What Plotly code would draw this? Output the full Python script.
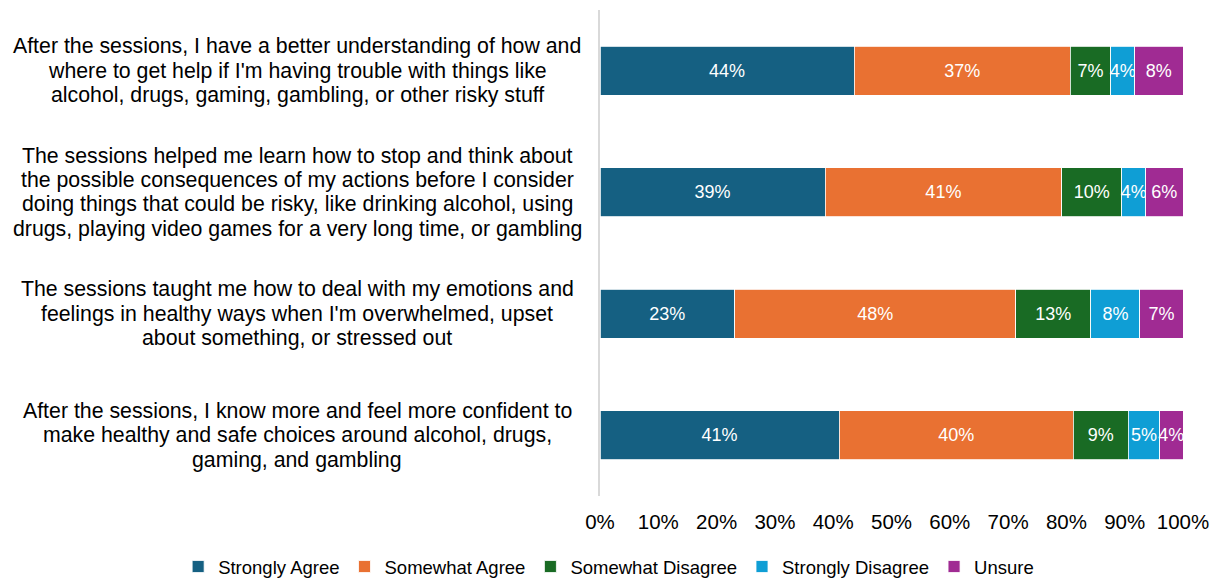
import plotly.graph_objects as go

categories = [
    "After the sessions, I have a better understanding of how and<br>where to get help if I'm having trouble with things like<br>alcohol, drugs, gaming, gambling, or other risky stuff",
    "The sessions helped me learn how to stop and think about<br>the possible consequences of my actions before I consider<br>doing things that could be risky, like drinking alcohol, using<br>drugs, playing video games for a very long time, or gambling",
    "The sessions taught me how to deal with my emotions and<br>feelings in healthy ways when I'm overwhelmed, upset<br>about something, or stressed out",
    "After the sessions, I know more and feel more confident to<br>make healthy and safe choices around alcohol, drugs,<br>gaming, and gambling",
]

strongly_agree = [43.6, 38.6, 23.1, 41.0]
somewhat_agree = [37.1, 40.6, 48.2, 40.2]
somewhat_disagree = [6.9, 10.3, 12.9, 9.4]
strongly_disagree = [4.1, 4.1, 8.4, 5.4]
unsure = [8.3, 6.4, 7.4, 4.0]

series = [
    ("Strongly Agree", strongly_agree, "#156082"),
    ("Somewhat Agree", somewhat_agree, "#E97132"),
    ("Somewhat Disagree", somewhat_disagree, "#196B24"),
    ("Strongly Disagree", strongly_disagree, "#0F9ED5"),
    ("Unsure", unsure, "#A02B93"),
]

tick_vals = [0, 10, 20, 30, 40, 50, 60, 70, 80, 90, 100]
tick_labels = ["0%", "10%", "20%", "30%", "40%", "50%", "60%", "70%", "80%", "90%", "100%"]

FONT = "Liberation Sans, Arial, sans-serif"
LINE_SPACING = 24.3

fig = go.Figure()
for name, vals, color in series:
    fig.add_trace(go.Bar(
        y=categories, x=vals, name=name, orientation="h",
        marker=dict(color=color, line=dict(color="white", width=0.8)),
        texttemplate="%{x:.0f}%", textposition="inside",
        insidetextanchor="middle", textangle=0,
        textfont=dict(color="white", size=18, family=FONT),
        hoverinfo="skip",
    ))

# Category labels: centred multi-line text, one annotation per line
for cat in categories:
    lines = cat.split("<br>")
    n = len(lines)
    for i, line in enumerate(lines):
        offset = ((n - 1) / 2 - i) * LINE_SPACING
        fig.add_annotation(
            x=-0.5197, xref="paper", y=cat, yref="y", text=line,
            showarrow=False, xanchor="center", yanchor="middle", align="center",
            yshift=offset,
            font=dict(size=21.3, color="#000000", family=FONT),
        )

fig.update_layout(
    barmode="stack",
    bargap=0.6,
    width=1217, height=579,
    margin=dict(l=600, r=34, t=10, b=83, autoexpand=False),
    paper_bgcolor="white", plot_bgcolor="white",
    font=dict(family=FONT, color="#000000"),
    uniformtext=dict(minsize=18, mode="show"),
    showlegend=True,
    legend=dict(
        orientation="h", xref="paper", yref="paper",
        x=-0.7236, xanchor="left", y=-0.1461, yanchor="middle",
        font=dict(size=18.5, family=FONT, color="#000000"),
        itemwidth=30, traceorder="normal",
    ),
    xaxis=dict(
        range=[0, 100], tickmode="array", tickvals=tick_vals, ticktext=tick_labels,
        showgrid=False, zeroline=False, showline=False,
        ticks="outside", ticklen=7, tickcolor="rgba(0,0,0,0)",
        tickfont=dict(size=20.5, family=FONT, color="#000000"),
    ),
    yaxis=dict(
        categoryorder="array", categoryarray=categories, autorange="reversed",
        showticklabels=False, showgrid=False, zeroline=False,
        showline=True, linecolor="#D9D9D9", linewidth=2,
    ),
)

fig.write_html("out.html")
